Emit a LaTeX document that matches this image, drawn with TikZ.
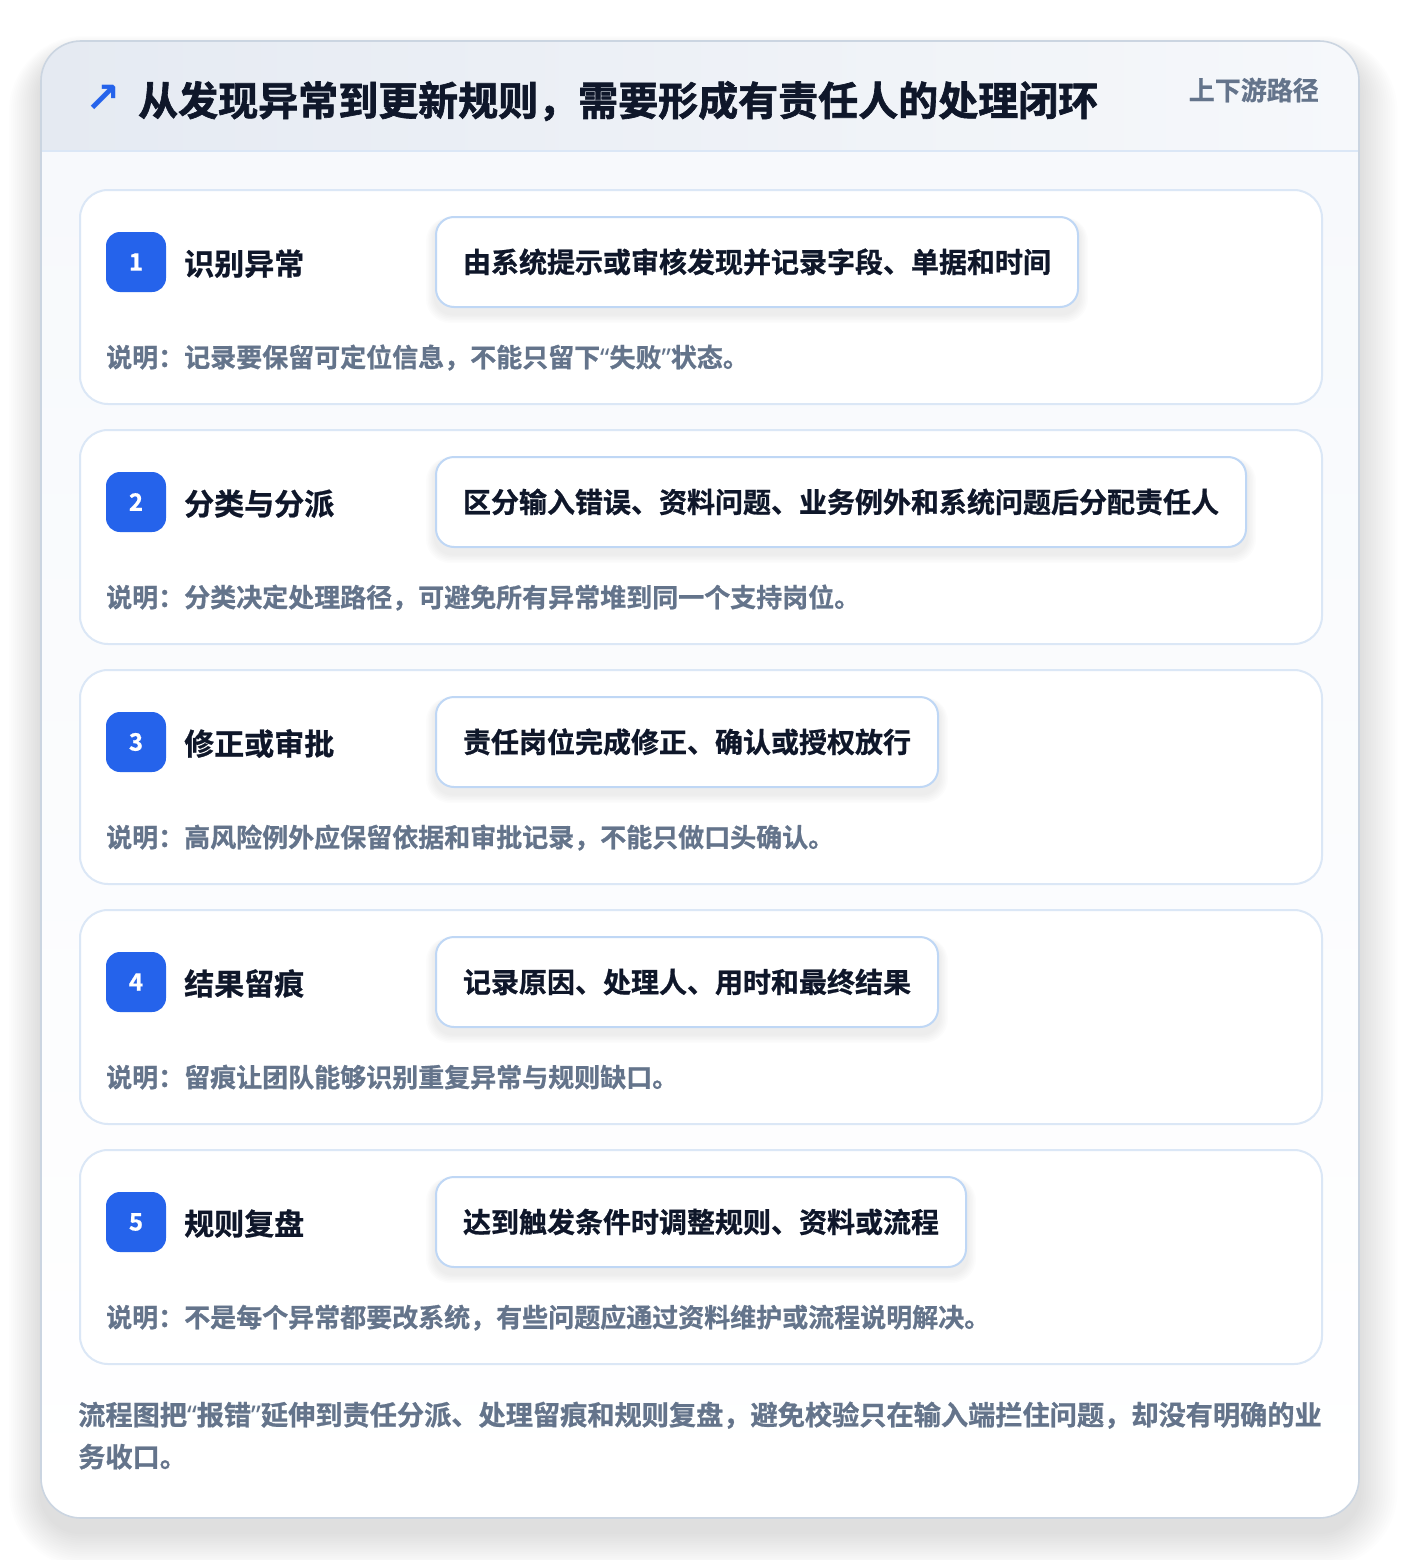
\documentclass[tikz,border=0pt]{standalone}
\usepackage{fontspec}
\usetikzlibrary{calc}
\setmainfont{Noto Sans CJK SC}[BoldFont={Noto Sans CJK SC Bold}, BoldFeatures={FakeBold=0.8}]
\newfontfamily\titlefont{Noto Sans CJK SC Bold}[FakeBold=1.6]
\newfontfamily\qfont{Noto Sans}[BoldFeatures={FakeBold=0.8}]
\newfontfamily\symfont{DejaVu Sans}
\newcommand\myqo{{\qfont “}}
\newcommand\myqc{{\qfont ”}}
\definecolor{ink}{HTML}{0F172A}
\definecolor{muted}{HTML}{64748B}
\definecolor{brand}{HTML}{2563EB}
\definecolor{cardline}{HTML}{DBE7F6}
\definecolor{boxline}{HTML}{BFD7F5}
\definecolor{outerline}{HTML}{CBD5E1}
\definecolor{headL}{HTML}{E5EAF2}
\definecolor{headR}{HTML}{F6F8FB}
\definecolor{bodyT}{HTML}{F7F9FC}
\tikzset{
  cjk/.style={inner sep=0pt},
  card/.style={draw=cardline, line width=2pt, fill=white, rounded corners=28pt, inner sep=0pt},
  badge/.style={fill=brand, rounded corners=14pt, minimum width=60pt, minimum height=60pt, inner sep=0pt,
    text=white, font=\bfseries\fontsize{24}{24}\selectfont},
  steptitle/.style={cjk, text=ink, font=\bfseries\fontsize{30}{30}\selectfont},
  detailbox/.style={draw=boxline, line width=2pt, fill=white, rounded corners=18pt, minimum height=90pt,
    inner xsep=27pt, inner ysep=0pt, text height=23.2pt, text depth=2pt, text=ink, font=\bfseries\fontsize{28}{28}\selectfont},
  desc/.style={cjk, text=muted, font=\bfseries\fontsize{26}{26}\selectfont},
}
\begin{document}
\begin{tikzpicture}[x=1pt,y=-1pt]
\useasboundingbox (0,0) rectangle (1400,1560);
\fill[white] (0,0) rectangle (1400,1560);
% outer shadow
\foreach \i in {1,...,16} {
  \pgfmathsetmacro\rr{40+\i*2.2}
  \fill[black,opacity=0.007,rounded corners=\rr pt] (41-\i*2.0,41-\i*1.2+14) rectangle (1359+\i*2.4,1518+\i*2.2+14);
}
% outer card
\begin{scope}
  \clip[rounded corners=40pt] (41,41) rectangle (1359,1518);
  \shade[left color=headL, right color=headR] (41,41) rectangle (1359,151);
  \shade[top color=bodyT, bottom color=white] (41,151) rectangle (1359,1518);
\end{scope}
\draw[cardline, line width=2pt] (41,151) -- (1359,151);
\draw[outerline, line width=1.6pt, rounded corners=40pt] (41,41) rectangle (1359,1518);
% header
\node[inner sep=0pt, text=brand, font=\symfont\bfseries\fontsize{42}{42}\selectfont] (icon) at (103,99) {↗};
\node[cjk, anchor=base west, text=ink, font=\titlefont\fontsize{40}{40}\selectfont] (title) at (138,115.5)
  {从发现异常到更新规则，需要形成有责任人的处理闭环};
\node[cjk, anchor=base east, text=muted, font=\bfseries\fontsize{26}{26}\selectfont] (tag) at (1319,100) {上下游路径};
% steps
\foreach \n/\t/\b/\d in {
  1/识别异常/{由系统提示或审核发现并记录字段、单据和时间}/{说明：记录要保留可定位信息，不能只留下\myqo 失败\myqc 状态。},
  2/分类与分派/{区分输入错误、资料问题、业务例外和系统问题后分配责任人}/{说明：分类决定处理路径，可避免所有异常堆到同一个支持岗位。},
  3/修正或审批/{责任岗位完成修正、确认或授权放行}/{说明：高风险例外应保留依据和审批记录，不能只做口头确认。},
  4/结果留痕/{记录原因、处理人、用时和最终结果}/{说明：留痕让团队能够识别重复异常与规则缺口。},
  5/规则复盘/{达到触发条件时调整规则、资料或流程}/{说明：不是每个异常都要改系统，有些问题应通过资料维护或流程说明解决。}} {
  \pgfmathsetmacro\yo{189+(\n-1)*240}
  \node[card, anchor=north west, minimum width=1242pt, minimum height=214pt] (card\n) at (79,\yo) {};
  \node[badge] (badge\n) at (136,\yo+73) {\n};
  \node[steptitle, anchor=base west] (title\n) at (184,\yo+86) {\t};
  % shadow of detail box
  \node[detailbox, anchor=west, opacity=0, text opacity=0] (ghost\n) at (435,\yo+73) {\b};
  \foreach \k in {1,...,6} {
    \fill[black, opacity=0.010, rounded corners=18pt+\k pt]
      ($(ghost\n.south west)+(-\k*1.5,\k*1.5+6)$) rectangle ($(ghost\n.north east)+(\k*1.5,-\k*0.5+4)$);
  }
  \node[detailbox, anchor=west] (box\n) at (435,\yo+73) {\b};
  \node[desc, anchor=base west] (desc\n) at (106,\yo+178) {\d};
}
% footer
\node[cjk, anchor=base west, text=muted, font=\bfseries\fontsize{27.2}{27.2}\selectfont] (foot1) at (78,1425)
  {流程图把\myqo 报错\myqc 延伸到责任分派、处理留痕和规则复盘，避免校验只在输入端拦住问题，却没有明确的业};
\node[cjk, anchor=base west, text=muted, font=\bfseries\fontsize{27.2}{27.2}\selectfont] (foot2) at (78,1467)
  {务收口。};
\end{tikzpicture}
\end{document}
